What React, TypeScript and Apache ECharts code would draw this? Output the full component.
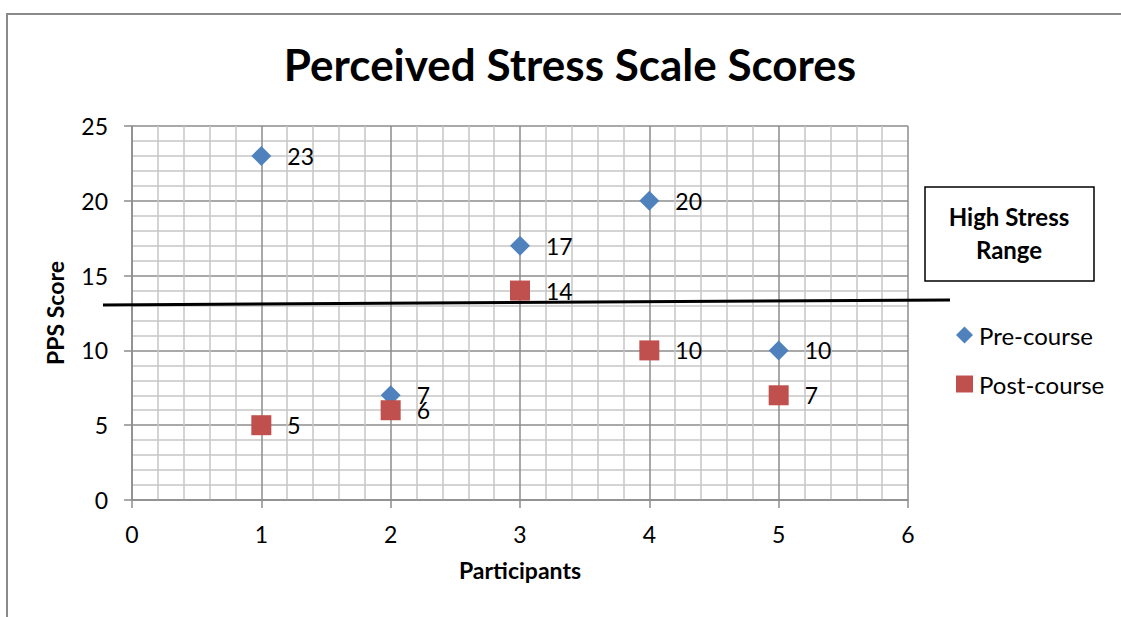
import React, { useEffect, useRef } from "react";
import * as echarts from "echarts";

const participants = [1, 2, 3, 4, 5];
const preCourse = [23, 7, 17, 20, 10];
const postCourse = [5, 6, 14, 10, 7];
const xTicks = [0, 1, 2, 3, 4, 5, 6];
const yTicks = [0, 5, 10, 15, 20, 25];

const FONT = "Lato, 'Open Sans', sans-serif";

export default function App() {
  const ref = useRef<HTMLDivElement>(null);
  useEffect(() => {
    if (!ref.current) return;
    const chart = echarts.init(ref.current, undefined, { renderer: "svg" });
    const labelStyle = {
      show: true,
      position: "right" as const,
      distance: 16,
      fontSize: 23,
      fontFamily: FONT,
      color: "#000",
      formatter: (p: any) => String(p.value[1]),
    };
    chart.setOption({
      animation: false,
      backgroundColor: "#fff",
      textStyle: { fontFamily: FONT },
      grid: { left: 132, top: 126, right: 213, bottom: 117 },
      xAxis: {
        type: "value",
        min: xTicks[0],
        max: xTicks[xTicks.length - 1],
        interval: 1,
        name: "Participants",
        nameLocation: "middle",
        nameGap: 58,
        nameTextStyle: { fontSize: 23, fontWeight: "bold", fontFamily: FONT, color: "#000" },
        axisLine: { show: true, lineStyle: { color: "#8c8c8c", width: 1.5 } },
        axisTick: { show: true, length: 8, lineStyle: { color: "#8c8c8c", width: 1.5 } },
        axisLabel: { fontSize: 23, fontFamily: FONT, color: "#000", margin: 22 },
        splitLine: { show: true, lineStyle: { color: "#8c8c8c", width: 1.5 } },
        minorTick: { show: false, splitNumber: 5 },
        minorSplitLine: { show: true, lineStyle: { color: "#c6c6c6", width: 1.5 } },
      },
      yAxis: {
        type: "value",
        min: yTicks[0],
        max: yTicks[yTicks.length - 1],
        interval: 5,
        name: "PPS Score",
        nameLocation: "middle",
        nameGap: 66,
        nameTextStyle: { fontSize: 23, fontWeight: "bold", fontFamily: FONT, color: "#000" },
        axisLine: { show: true, lineStyle: { color: "#8c8c8c", width: 1.5 } },
        axisTick: { show: true, length: 8, lineStyle: { color: "#8c8c8c", width: 1.5 } },
        axisLabel: { fontSize: 23, fontFamily: FONT, color: "#000", margin: 24 },
        splitLine: { show: true, lineStyle: { color: "#8c8c8c", width: 1.5 } },
        minorTick: { show: false, splitNumber: 5 },
        minorSplitLine: { show: true, lineStyle: { color: "#c6c6c6", width: 1.5 } },
      },
      legend: {
        orient: "vertical",
        left: 956,
        top: 322,
        padding: 0,
        itemWidth: 17,
        itemHeight: 17,
        itemGap: 23,
        textStyle: { fontSize: 24, fontFamily: FONT, color: "#000", lineHeight: 26, padding: [0, 0, 0, 1] },
        data: [
          { name: "Pre-course", icon: "diamond" },
          { name: "Post-course", icon: "rect" },
        ],
      },
      series: [
        {
          name: "Pre-course",
          type: "scatter",
          symbol: "diamond",
          symbolSize: 20,
          itemStyle: { color: "#4F81BD", opacity: 1 },
          label: labelStyle,
          data: participants.map((p, i) => [p, preCourse[i]]),
        },
        {
          name: "Post-course",
          type: "scatter",
          symbol: "rect",
          symbolSize: 20,
          itemStyle: { color: "#C0504D", opacity: 1 },
          label: labelStyle,
          data: participants.map((p, i) => [p, postCourse[i]]),
        },
      ],
      graphic: [
        {
          type: "rect",
          shape: { x: 7, y: 14, width: 1300, height: 800 },
          style: { fill: "none", stroke: "#8a8a8a", lineWidth: 2 },
          silent: true,
        },
        {
          type: "text",
          x: 570,
          y: 64,
          style: {
            text: "Perceived Stress Scale Scores",
            fontSize: 44,
            fontWeight: "bold",
            fontFamily: FONT,
            fill: "#000",
            align: "center",
            verticalAlign: "middle",
          },
        },
        {
          type: "line",
          shape: { x1: 103, y1: 305, x2: 950, y2: 300 },
          style: { stroke: "#000", lineWidth: 3 },
          z: 10,
        },
        {
          type: "rect",
          shape: { x: 925, y: 187, width: 169, height: 94 },
          style: { fill: "#fff", stroke: "#000", lineWidth: 1.5 },
          z: 10,
        },
        {
          type: "text",
          x: 1009,
          y: 233,
          z: 11,
          style: {
            text: "High Stress\nRange",
            fontSize: 24,
            fontWeight: "bold",
            fontFamily: FONT,
            lineHeight: 33,
            fill: "#000",
            align: "center",
            verticalAlign: "middle",
          },
        },
      ],
    });
    return () => chart.dispose();
  }, []);
  return (
    <div
      ref={ref}
      style={{ position: "fixed", left: 0, top: 0, width: 1121, height: 617, background: "#fff" }}
    />
  );
}
